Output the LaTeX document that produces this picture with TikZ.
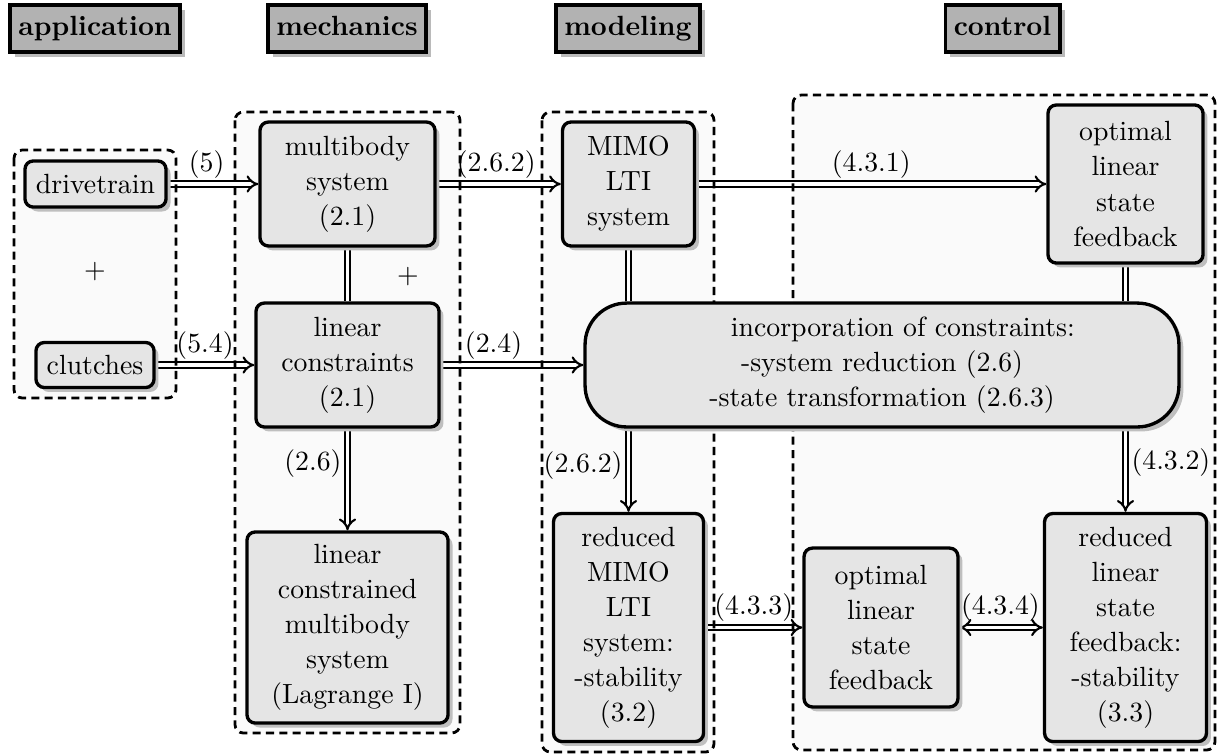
\documentclass[tikz,border=0pt]{standalone}
\usetikzlibrary{arrows.meta,shadows}
\pgfdeclarelayer{bg}\pgfdeclarelayer{arr}\pgfdeclarelayer{brd}
\pgfsetlayers{bg,arr,brd,main}
\begin{document}
\begin{tikzpicture}[x=0.36pt,y=-0.36pt,
  box/.style={draw, very thick, rounded corners=3pt, fill=black!10, align=center, inner sep=0pt,
    font=\fontsize{10}{12.6}\selectfont,
    drop shadow={shadow xshift=1.6pt,shadow yshift=-1.6pt,fill=black!25,opacity=1}},
  hdr/.style={draw, line width=1.4pt, fill=black!30, font=\bfseries, inner xsep=3pt, inner ysep=0pt,
    minimum height=17pt, text height=7pt, text depth=2pt,
    drop shadow={shadow xshift=1.8pt,shadow yshift=-1.8pt,fill=black!27,opacity=1}},
  grp/.style={draw, line width=1pt, dash pattern=on 2.9pt off 1.9pt, rounded corners=3pt},
  grpfill/.style={fill=black!2, rounded corners=3pt},
  dblline/.style={double, line width=0.75pt, double distance=1.3pt},
  dbl/.style={dblline, -{Implies}},
  lbl/.style={inner sep=1.8pt}]
\useasboundingbox (0,0) rectangle (1218,754);

% headers
\node[hdr] (happ) at (95,28.5) {application};
\node[hdr] (hmech) at (347,28.5) {mechanics};
\node[hdr] (hmod) at (628,28.5) {modeling};
\node[hdr] (hctrl) at (1002.5,28.5) {control};

% nodes
\node[box, minimum width=50.8pt, minimum height=16.6pt] (drive) at (95.5,184) {drivetrain};
\node[box, minimum width=42.5pt, minimum height=16.2pt] (clutch) at (95,365) {clutches};
\node (plus1) at (95,272) {+};
\node[box, minimum width=63pt, minimum height=44.6pt] (mbs) at (347.5,184) {multibody\\system\\(2.1)};
\node[box, minimum width=65.9pt, minimum height=44.6pt] (lc) at (347.5,365) {linear\\constraints\\(2.1)};
\node (plus2) at (408,277) {+};
\node[box, minimum width=72.4pt, minimum height=68.8pt] (lag) at (347.5,627.5) {linear\\constrained\\multibody\\system\\(Lagrange I)};
\node[box, minimum width=47.5pt, minimum height=44.6pt] (mimo) at (628.5,184) {MIMO\\LTI\\system};
\node[box, minimum width=54pt, minimum height=82.1pt] (rmimo) at (628.5,627.5) {reduced\\MIMO\\LTI\\system:\\-stability\\(3.2)};
\node[box, minimum width=55.8pt, minimum height=56.9pt] (olsf) at (1125.5,184) {optimal\\linear\\state\\feedback};
\node[box, rounded corners=15pt, minimum width=213.8pt, minimum height=44.6pt] (inc) at (882,365) {\hspace*{15pt}incorporation of constraints:\\-system reduction (2.6)\\-state transformation (2.6.3)};
\node[box, minimum width=55.4pt, minimum height=57.2pt] (olsf2) at (881,627.5) {optimal\\linear\\state\\feedback};
\node[box, minimum width=58.3pt, minimum height=82.1pt] (rlsf) at (1125.5,627.5) {reduced\\linear\\state\\feedback:\\-stability\\(3.3)};

% groups
\begin{pgfonlayer}{bg}
  \fill[grpfill] (14,150) rectangle (176,398);
  \fill[grpfill] (235,112) rectangle (460,733);
  \fill[grpfill] (542,112) rectangle (714,752);
  \fill[grpfill] (793,95) rectangle (1215,750);
\end{pgfonlayer}
\begin{pgfonlayer}{brd}
  \draw[grp] (14,150) rectangle (176,398);
  \draw[grp] (235,112) rectangle (460,733);
  \draw[grp] (542,112) rectangle (714,752);
  \draw[grp] (793,95) rectangle (1215,750);
\end{pgfonlayer}

% connectors
\begin{pgfonlayer}{arr}
  \draw[dbl] (drive) -- node[pos=0.43, above, lbl] {(5)} (mbs);
  \draw[dbl] (clutch.east) -- node[pos=0.5, above, lbl] {(5.4)} (clutch.east -| lc.west);
  \draw[dbl] (mbs) -- node[pos=0.48, above, lbl] {(2.6.2)} (mimo);
  \draw[dbl] (mimo) -- node[pos=0.5, above, lbl] {(4.3.1)} (olsf);
  \draw[dbl] (lc) -- node[pos=0.37, above, lbl] {(2.4)} (inc);
  \draw[dblline] (mbs) -- (lc);
  \draw[dblline] (mimo.south) -- (mimo.south |- inc.north);
  \draw[dblline] (olsf.south) -- (olsf.south |- inc.north);
  \draw[dbl] (rmimo.north |- inc.south) -- node[pos=0.44, left, lbl] {(2.6.2)} (rmimo.north);
  \draw[dbl] (rlsf.north |- inc.south) -- node[pos=0.41, right, lbl] {(4.3.2)} (rlsf.north);
  \draw[dbl] (lc) -- node[pos=0.34, left, lbl] {(2.6)} (lag);
  \draw[dbl] (rmimo) -- node[pos=0.5, above, lbl] {(4.3.3)} (olsf2);
  \draw[dbl, {Implies}-{Implies}] (olsf2) -- node[pos=0.49, above, lbl] {(4.3.4)} (rlsf);
\end{pgfonlayer}
\end{tikzpicture}
\end{document}
